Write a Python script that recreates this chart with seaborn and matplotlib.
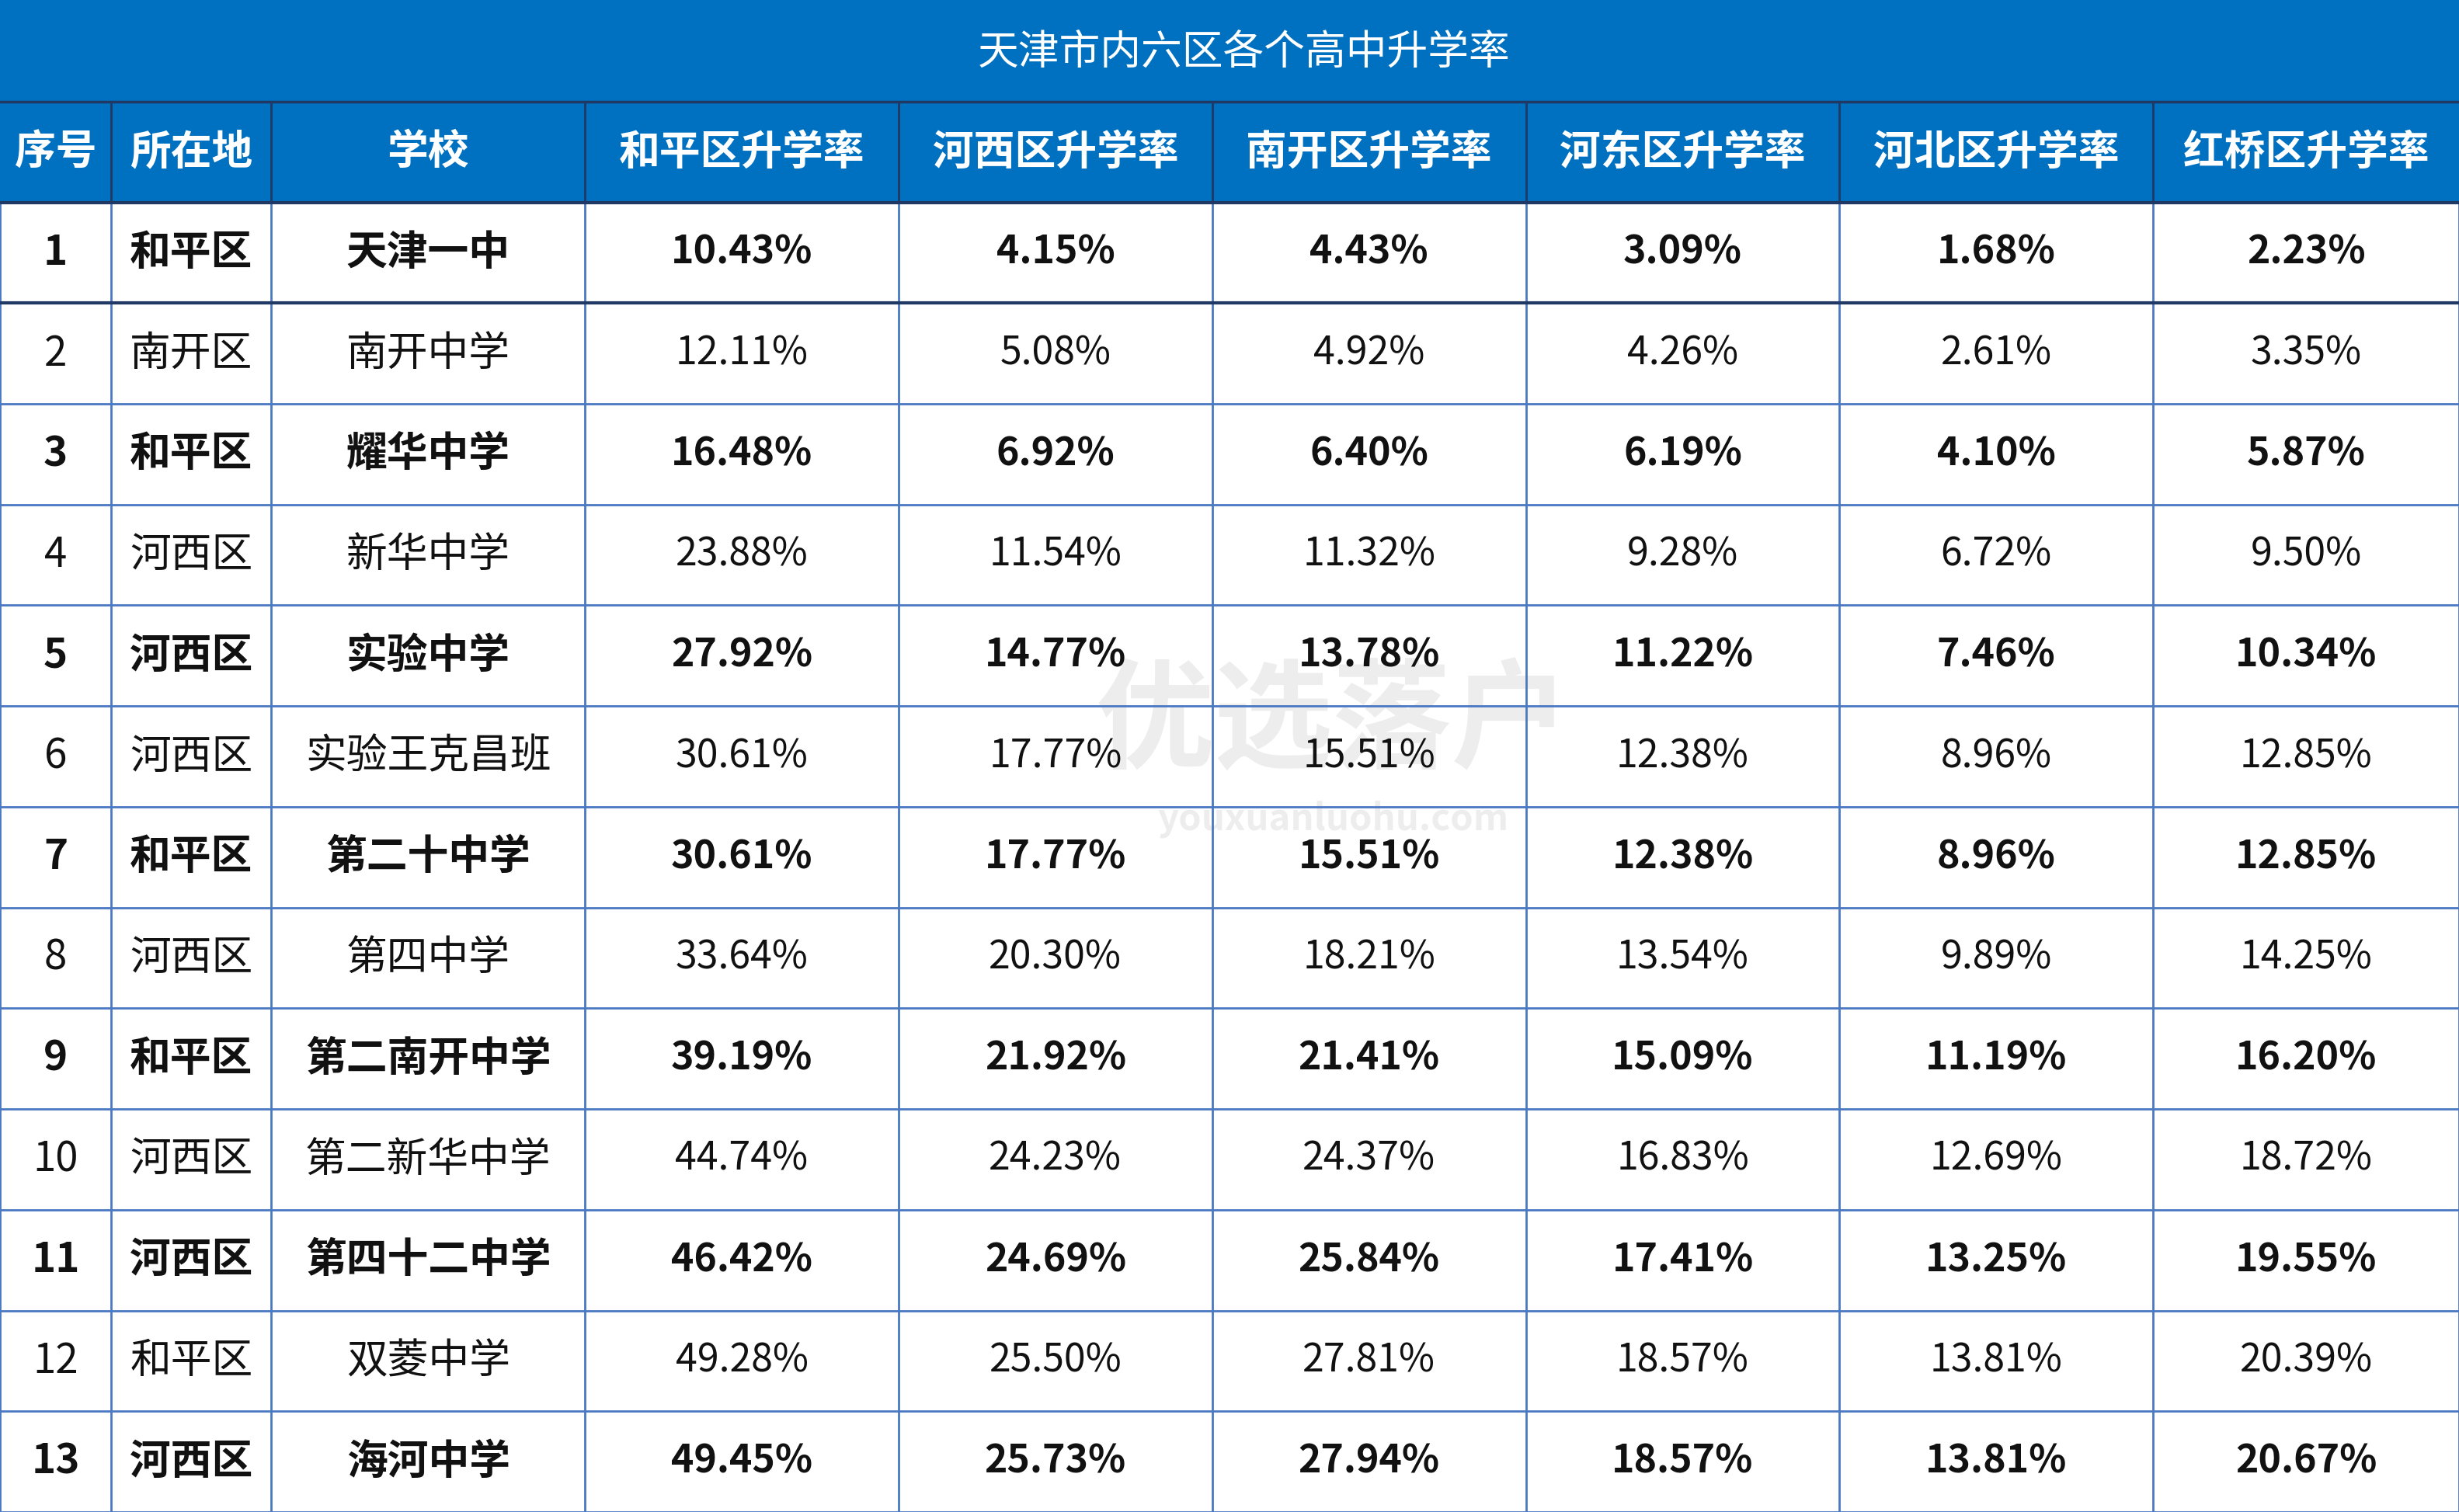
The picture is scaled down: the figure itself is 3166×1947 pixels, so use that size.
import matplotlib
matplotlib.use("Agg")
import matplotlib.pyplot as plt
import seaborn as sns
from matplotlib.patches import Rectangle

sns.set_theme(style="white")
plt.rcParams['font.family'] = ['Noto Sans CJK SC', 'DejaVu Sans']

title = "天津市内六区各个高中升学率"
headers = ["序号", "所在地", "学校", "和平区升学率", "河西区升学率", "南开区升学率",
           "河东区升学率", "河北区升学率", "红桥区升学率"]
idx = [str(i) for i in range(1, 14)]
district = ["和平区", "南开区", "和平区", "河西区", "河西区", "河西区", "和平区",
            "河西区", "和平区", "河西区", "河西区", "和平区", "河西区"]
school = ["天津一中", "南开中学", "耀华中学", "新华中学", "实验中学", "实验王克昌班",
          "第二十中学", "第四中学", "第二南开中学", "第二新华中学", "第四十二中学",
          "双菱中学", "海河中学"]
heping = ["10.43%", "12.11%", "16.48%", "23.88%", "27.92%", "30.61%", "30.61%",
          "33.64%", "39.19%", "44.74%", "46.42%", "49.28%", "49.45%"]
hexi = ["4.15%", "5.08%", "6.92%", "11.54%", "14.77%", "17.77%", "17.77%",
        "20.30%", "21.92%", "24.23%", "24.69%", "25.50%", "25.73%"]
nankai = ["4.43%", "4.92%", "6.40%", "11.32%", "13.78%", "15.51%", "15.51%",
          "18.21%", "21.41%", "24.37%", "25.84%", "27.81%", "27.94%"]
hedong = ["3.09%", "4.26%", "6.19%", "9.28%", "11.22%", "12.38%", "12.38%",
          "13.54%", "15.09%", "16.83%", "17.41%", "18.57%", "18.57%"]
hebei = ["1.68%", "2.61%", "4.10%", "6.72%", "7.46%", "8.96%", "8.96%",
         "9.89%", "11.19%", "12.69%", "13.25%", "13.81%", "13.81%"]
hongqiao = ["2.23%", "3.35%", "5.87%", "9.50%", "10.34%", "12.85%", "12.85%",
            "14.25%", "16.20%", "18.72%", "19.55%", "20.39%", "20.67%"]

columns = [idx, district, school, heping, hexi, nankai, hedong, hebei, hongqiao]

W, H = 1568, 964
xs = [0, 71, 173, 373, 573, 773, 973, 1173, 1373, 1568]
title_h, head_h = 65, 64
row_h = (H - title_h - head_h) / 13
blue = "#0070C0"
line = "#4A78C2"

fig = plt.figure(figsize=(31.66, 19.47), dpi=100)
ax = fig.add_axes([0, 0, 1, 1])
ax.set_xlim(0, W)
ax.set_ylim(H, 0)
ax.axis("off")

ax.add_patch(Rectangle((0, 0), W, title_h + head_h, color=blue, zorder=1))
ax.text(W / 2 + 9, title_h / 2 + 1, title, color="white", fontsize=38,
        fontweight="medium", ha="center", va="center", zorder=3)
ax.plot([0, W], [title_h, title_h], color="#1F3864", lw=2.5, zorder=2)
for j, h in enumerate(headers):
    ax.text((xs[j] + xs[j + 1]) / 2, title_h + head_h / 2, h, color="white",
            fontsize=38, fontweight="bold", ha="center", va="center", zorder=3)
for x in xs[1:-1]:
    ax.plot([x, x], [title_h, title_h + head_h], color="#1F3864", lw=2, zorder=2)

# watermark (faint, behind table text)
ax.text(850, 462, "优选落户", fontsize=110, color="#DDDDDD", alpha=0.5,
        ha="center", va="center", fontweight="bold", zorder=1)
ax.text(850, 522, "youxuanluohu.com", fontsize=34, color="#DDDDDD", alpha=0.5,
        ha="center", va="center", fontweight="bold", zorder=1)

top = title_h + head_h
for i in range(13):
    y0 = top + i * row_h
    bold = (i % 2 == 0)
    for j, col in enumerate(columns):
        ax.text((xs[j] + xs[j + 1]) / 2, y0 + row_h / 2, col[i],
                fontsize=36 if j >= 3 else 38, color="#111111",
                fontweight="bold" if bold else "normal",
                ha="center", va="center", zorder=3)
    ax.plot([0, W], [y0 + row_h, y0 + row_h], color=line, lw=2, zorder=2)
for x in xs:
    ax.plot([x, x], [top, H], color=line, lw=2, zorder=2)
ax.plot([0, W], [top, top], color="#1F3864", lw=3, zorder=2)
ax.plot([0, W], [top + row_h, top + row_h], color="#1F3864", lw=3, zorder=2)

fig.savefig("out.png", dpi=100)
